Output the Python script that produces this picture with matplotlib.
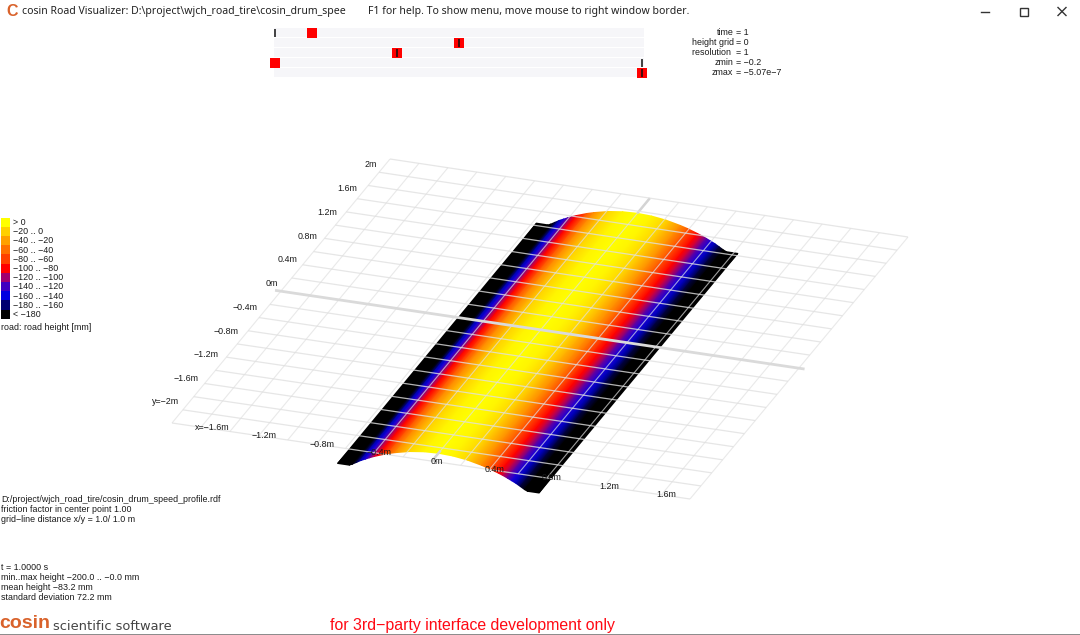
import numpy as np
import matplotlib
matplotlib.use("Agg")
import matplotlib.pyplot as plt
from matplotlib.colors import LinearSegmentedColormap, Normalize
from matplotlib.patches import Rectangle

# ===============================
# DATA
# ===============================
legend_labels = ["> 0", "−20 .. 0", "−40 .. −20", "−60 .. −40", "−80 .. −60", "−100 .. −80",
                 "−120 .. −100", "−140 .. −120", "−160 .. −140", "−180 .. −160", "< −180"]
legend_colors = ["#ffff00", "#ffd000", "#ffa000", "#ff7000", "#ff4000", "#ff0000",
                 "#a00070", "#4000c0", "#0000e0", "#000070", "#000000"]

# road cross section (half width, height in mm)
profile_x = [0.0, 0.1, 0.2, 0.3, 0.35, 0.42, 0.45, 0.48, 0.51, 0.54, 0.57, 0.6, 0.62, 0.7]
profile_z = [0, -5, -20, -46, -62, -90, -103, -118, -134, -150, -170, -190, -200, -200]
road_y = [-1.88, 1.77]

grid_x = [-1.8, -1.6, -1.4, -1.2, -1.0, -0.8, -0.6, -0.4, -0.2, 0.0, 0.2, 0.4, 0.6, 0.8, 1.0, 1.2, 1.4, 1.6, 1.8]
grid_y = [-2.0, -1.8, -1.6, -1.4, -1.2, -1.0, -0.8, -0.6, -0.4, -0.2, 0.0,
          0.2, 0.4, 0.6, 0.8, 1.0, 1.2, 1.4, 1.6, 1.8, 2.0]

y_ticks = [2, 1.6, 1.2, 0.8, 0.4, 0, -0.4, -0.8, -1.2, -1.6, -2]
y_labels = ["2m", "1.6m", "1.2m", "0.8m", "0.4m", "0m", "−0.4m", "−0.8m", "−1.2m", "−1.6m", "y=−2m"]
x_ticks = [-1.6, -1.2, -0.8, -0.4, 0, 0.4, 0.8, 1.2, 1.6]
x_labels = ["x=−1.6m", "−1.2m", "−0.8m", "−0.4m", "0m", "0.4m", "0.8m", "1.2m", "1.6m"]

# sliders on top: red knob and black tick, as fraction of the slider length
slider_knob = [0.10, 0.50, 0.333, 0.0, 1.0]
slider_tick = [0.0, 0.50, 0.333, 1.0, 1.0]

param_names = ["time", "height grid", "resolution ", "zmin", "zmax"]
param_values = ["= 1", "= 0", "= 1", "= −0.2", "= −5.07e−7"]

info_top = ["D:/project/wjch_road_tire/cosin_drum_speed_profile.rdf",
            "friction factor in center point 1.00",
            "grid−line distance x/y = 1.0/ 1.0 m"]
info_bottom = ["t = 1.0000 s", "min..max height −200.0 .. −0.0 mm",
               "mean height −83.2 mm", "standard deviation 72.2 mm"]

# ===============================
# PROJECTION road -> pixels
# ===============================
corners_road = [(-1.8, -2), (1.8, -2), (1.8, 2), (-1.8, 2)]
corners_px = [(172, 423), (690, 499), (908, 237), (390, 159)]
Z_SCALE = 0.125  # pixels per mm of height

rows = []
rhs = []
for (u, v), (px, py) in zip(corners_road, corners_px):
    rows.append([u, v, 1, 0, 0, 0, -u * px, -v * px])
    rows.append([0, 0, 0, u, v, 1, -u * py, -v * py])
    rhs += [px, py]
h = np.linalg.solve(np.array(rows, dtype=float), np.array(rhs, dtype=float))


def project(u, v):
    u = np.asarray(u, dtype=float)
    v = np.asarray(v, dtype=float)
    w = h[6] * u + h[7] * v + 1
    return (h[0] * u + h[1] * v + h[2]) / w, (h[3] * u + h[4] * v + h[5]) / w


# ===============================
# FIGURE
# ===============================
fig = plt.figure(figsize=(10.8, 6.35), dpi=100)
ax = fig.add_axes([0, 0, 1, 1])
ax.set_xlim(0, 1080)
ax.set_ylim(635, 0)
ax.axis("off")

FONT = "Liberation Sans"
TXT = 6.4
INK = "#1a1a1a"
GRID = "#e0e0e0"

# road surface
half = np.array(profile_x)
sec_x = np.concatenate([-half[:0:-1], half])
sec_z = np.array(profile_z[:0:-1] + profile_z, dtype=float)
uu, vv = np.meshgrid(sec_x, road_y)
zz = np.vstack([sec_z, sec_z])
X, Y = project(uu, vv)
Y = Y - zz * Z_SCALE

stops = [(0.0, "#000000"), (0.1, "#000000"), (0.2, "#000080"), (0.3, "#0000e8"), (0.4, "#5000b0"),
         (0.45, "#a00070"), (0.55, "#ff0000"), (0.7, "#ff6000"), (0.85, "#ffc000"), (1.0, "#ffff00")]
road_cmap = LinearSegmentedColormap.from_list("road", stops, N=512)
ax.pcolormesh(X, Y, zz, cmap=road_cmap, norm=Normalize(-200, 0), shading="gouraud", zorder=2, rasterized=True)

# grid
for gx in grid_x:
    px, py = project([gx, gx], [-2, 2])
    ax.plot(px, py, color=GRID, lw=0.8, alpha=0.7, solid_capstyle="butt", zorder=3)
# x=0 only looks heavy where it leaves the road
for ends in ([-2, road_y[0] + 0.04], [road_y[1], 2]):
    px, py = project([0, 0], ends)
    ax.plot(px, py, color="#d4d4d4", lw=1.8, solid_capstyle="butt", zorder=3)
for gy in grid_y:
    if gy == 0:
        px, py = project([-1.84, 1.84], [gy, gy])
        ax.plot(px, py, color="#dadada", lw=2.0, solid_capstyle="butt", zorder=3)
    else:
        px, py = project([-1.8, 1.8], [gy, gy])
        ax.plot(px, py, color=GRID, lw=0.9, alpha=0.8, solid_capstyle="butt", zorder=3)

# axis labels
for yt, lab in zip(y_ticks, y_labels):
    px, py = project(-1.8, yt)
    ax.text(px - 3 - 5 * yt, py - 7.5 + 6.75 * yt, lab, ha="right", va="center",
            family=FONT, fontsize=TXT, color=INK, zorder=5)
for xt, lab in zip(x_ticks, x_labels):
    px, py = project(xt, -2)
    shift = 11 if lab.startswith("x=") else 5
    ax.text(px + shift, py, lab, ha="center", va="center", family=FONT, fontsize=TXT, color=INK, zorder=5)

# legend
for i, (lab, col) in enumerate(zip(legend_labels, legend_colors)):
    top = 217.5 + i * 9.2
    ax.add_patch(Rectangle((1, top), 8.5, 9.2, fc=col, ec="none", zorder=4))
    ax.text(13, top + 5, lab, ha="left", va="center", family=FONT, fontsize=TXT, color=INK)
ax.text(1, 327, "road: road height [mm]", ha="left", va="center", family=FONT, fontsize=TXT, color=INK)

# sliders
SL_LEFT, SL_RIGHT = 275, 642
for i, (knob, tick) in enumerate(zip(slider_knob, slider_tick)):
    top = 28 + i * 10
    ax.add_patch(Rectangle((SL_LEFT - 1, top), SL_RIGHT - SL_LEFT + 3, 9, fc="#f6f6f9", ec="none", zorder=1))
    kx = SL_LEFT + knob * (SL_RIGHT - SL_LEFT)
    ax.add_patch(Rectangle((kx - 5, top - 0.5), 10, 10, fc="#ff0000", ec="none", zorder=2))
    tx = SL_LEFT + tick * (SL_RIGHT - SL_LEFT)
    ax.plot([tx, tx], [top + 0.5, top + 8.5], color="#101010", lw=1.1, solid_capstyle="butt", zorder=3)

for i, (name, val) in enumerate(zip(param_names, param_values)):
    ax.text(733.5, 32.5 + i * 10.1, name, ha="right", va="center", family=FONT, fontsize=TXT, color=INK)
    ax.text(735.5, 32.5 + i * 10.1, val, ha="left", va="center", family=FONT, fontsize=TXT, color=INK)

# info text
for yy, line in zip([499, 510, 519.5], info_top):
    ax.text(1, yy, line, ha="left", va="center", family=FONT, fontsize=TXT, color=INK)
for yy, line in zip([567, 577.5, 587, 598], info_bottom):
    ax.text(1, yy, line, ha="left", va="center", family=FONT, fontsize=TXT, color=INK)

# window title bar
ax.text(6, 11, "C", ha="left", va="center", family="Liberation Sans", fontweight="bold", fontsize=11.5, color="#d9622b")
ax.text(22, 11.5, "cosin Road Visualizer: D:\\project\\wjch_road_tire\\cosin_drum_spee", ha="left", va="center",
        family="Noto Sans", fontsize=7.55, color="#222222")
ax.text(368, 11.5, "F1 for help. To show menu, move mouse to right window border.", ha="left", va="center",
        family="Noto Sans", fontsize=7.55, color="#222222")
ax.plot([981, 989], [11.5, 11.5], color="#333333", lw=1)
ax.add_patch(Rectangle((1019.5, 7.5), 8, 8, fc="none", ec="#333333", lw=1))
ax.plot([1058, 1066], [7.5, 15.5], color="#333333", lw=1)
ax.plot([1058, 1066], [15.5, 7.5], color="#333333", lw=1)

# footer
ax.text(-1, 623, "cosin", ha="left", va="center", family="Liberation Sans", fontweight="bold", fontsize=14, color="#d9622b")
ax.text(53, 627, "scientific software", ha="left", va="center", family="DejaVu Sans", fontsize=9.4, color="#444444")
ax.text(330, 625.5, "for 3rd−party interface development only", ha="left", va="center", family="Liberation Sans",
        fontsize=11.45, color="#ff0a14")
ax.plot([0, 1080], [634.5, 634.5], color="#777777", lw=1.2)

fig.savefig("out.png", dpi=100)
